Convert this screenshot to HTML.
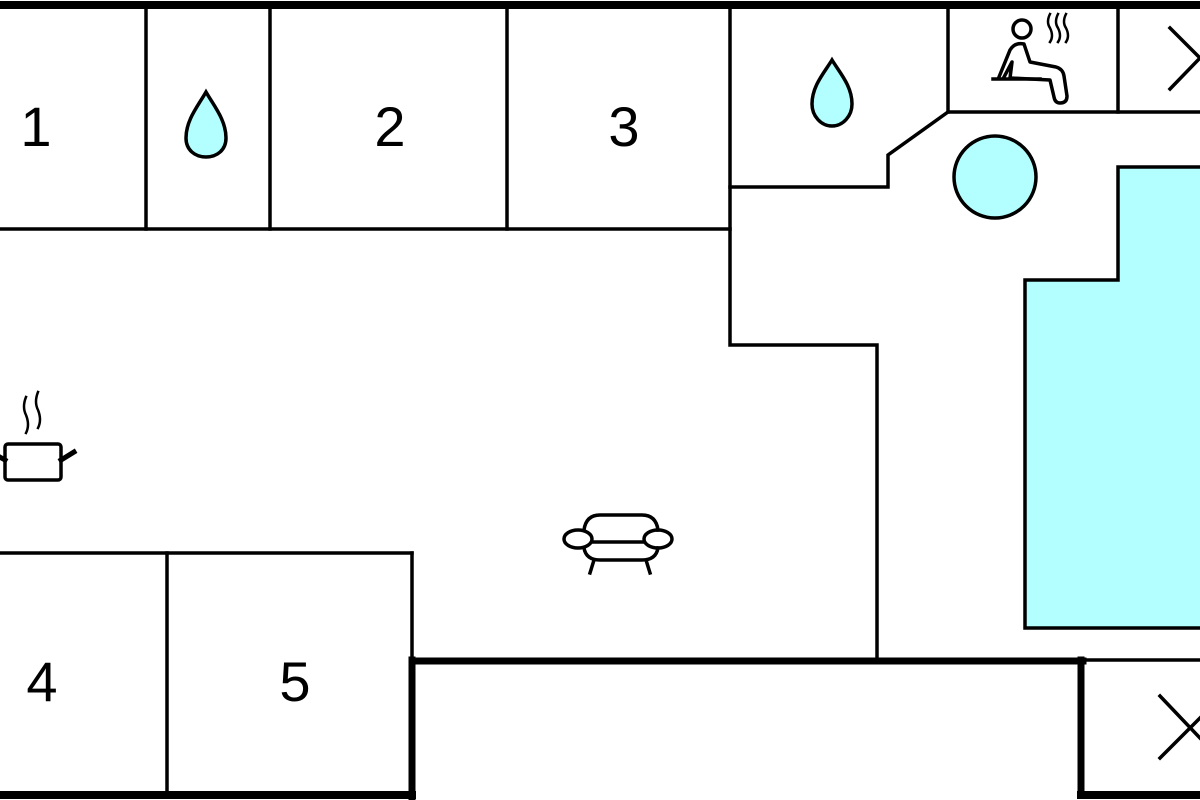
<!DOCTYPE html>
<html><head><meta charset="utf-8"><style>html,body{margin:0;padding:0;background:#fff}svg{display:block}</style></head>
<body>
<svg width="1200" height="800" viewBox="0 0 1200 800" xmlns="http://www.w3.org/2000/svg">
<rect width="1200" height="800" fill="#fff"/>
<g fill="none" stroke="#000" stroke-linecap="square">
<path d="M1025,628 V280 H1118 V167 H1205 V628 Z" fill="#b3ffff" stroke-width="3.5"/>
<circle cx="995" cy="177" r="41" fill="#b3ffff" stroke-width="3.5"/>
<line x1="0" y1="5" x2="1200" y2="5" stroke-width="8"/>
<line x1="412" y1="661" x2="1083" y2="661" stroke-width="7"/>
<line x1="0" y1="795" x2="412" y2="795" stroke-width="8"/>
<line x1="412" y1="660" x2="412" y2="797" stroke-width="7"/>
<line x1="1081" y1="660" x2="1081" y2="795" stroke-width="7"/>
<line x1="1081" y1="795" x2="1200" y2="795" stroke-width="8"/>
<g stroke-width="3.5">
<line x1="0" y1="229" x2="730" y2="229"/>
<line x1="146" y1="5" x2="146" y2="229"/>
<line x1="270" y1="5" x2="270" y2="229"/>
<line x1="507" y1="5" x2="507" y2="229"/>
<path d="M730,5 V345 H877 V660"/>
<path d="M730,187 H888 V155 L948,112 H1200"/>
<line x1="948" y1="5" x2="948" y2="112"/>
<line x1="1118" y1="5" x2="1118" y2="112"/>
<line x1="0" y1="553" x2="412" y2="553"/>
<line x1="167" y1="553" x2="167" y2="795"/>
<line x1="412" y1="553" x2="412" y2="660"/>
<line x1="1081" y1="660" x2="1200" y2="660"/>
<path d="M1170,28 L1200,58 M1200,58 L1170,89"/>
<path d="M1160,696 L1200,738 M1160,758 L1200,718"/>
</g>
<path d="M206,92 C214,106 226,120 226,138 C226,150 217,157 206,157 C195,157 186,150 186,138 C186,120 198,106 206,92 Z" fill="#b3ffff" stroke-width="3.5"/>
<path d="M832,60 C840,73 852,86 852,104 C852,116 843,126 832,126 C821,126 812,116 812,104 C812,86 824,73 832,60 Z" fill="#b3ffff" stroke-width="3.5"/>
<g stroke-width="3.5" stroke-linejoin="round">
<circle cx="1022" cy="29" r="9"/>
<path d="M999,77 L1010,50 Q1015,42 1024,44 L1030,62 L1056,67 Q1063,69 1064,76 L1067,96 Q1067,103 1060,103 Q1055,103 1054,97 L1050,80 L1010,78 L1012,62 L1004,77"/>
<line x1="993" y1="79" x2="1040" y2="79"/>
<path d="M1050,14 q-4,8 0,14 q4,8 0,14 M1058,14 q-4,8 0,14 q4,8 0,14 M1066,14 q-4,8 0,14 q4,8 0,14" stroke-width="2.5"/>
</g>
<g stroke-width="3.5">
<rect x="5" y="444" width="56" height="36" rx="3"/>
<line x1="61" y1="460" x2="74" y2="452" stroke-width="5"/>
<line x1="5" y1="460" x2="-2" y2="456" stroke-width="5"/>
<path d="M26,397 q-4,10 0,18 q4,10 0,18 M38,392 q-4,10 0,18 q4,10 0,18" stroke-width="2.5"/>
</g>
<g stroke-width="3.5">
<path d="M584,530 Q586,515 600,515 H642 Q656,515 658,530"/>
<ellipse cx="578" cy="539" rx="14" ry="9"/>
<ellipse cx="658" cy="539" rx="14" ry="9"/>
<line x1="592" y1="542" x2="644" y2="542"/>
<path d="M584,548 Q586,560 600,560 H642 Q656,560 658,548"/>
<line x1="594" y1="560" x2="590" y2="573"/>
<line x1="646" y1="560" x2="650" y2="573"/>
</g>
</g>
<g font-family="Liberation Sans, sans-serif" font-size="56" fill="#000" text-anchor="middle">
<text x="36" y="146">1</text>
<text x="390" y="146">2</text>
<text x="624" y="146">3</text>
<text x="42" y="701">4</text>
<text x="295" y="701">5</text>
</g>
</svg>
</body></html>
